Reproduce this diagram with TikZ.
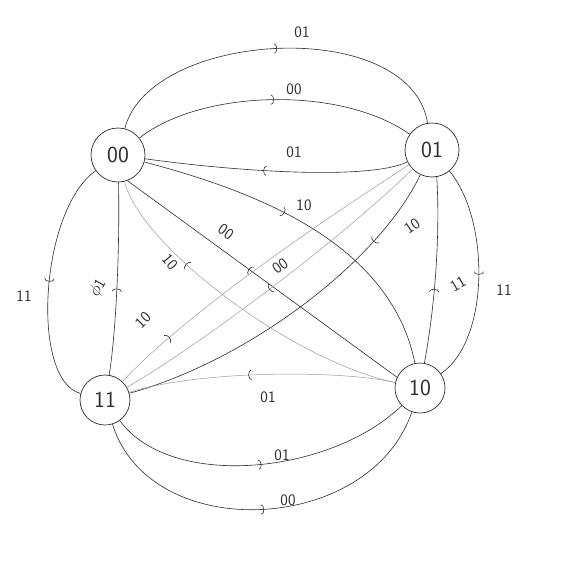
\documentclass[tikz,border=0pt]{standalone}
\usepackage{xcolor}
\usepackage{tikz}
\usetikzlibrary{arrows.meta,decorations.markings,positioning}
\definecolor{ink}{HTML}{2E2E2E}
\definecolor{pale}{HTML}{9C9C9C}

\begin{document}
\begin{tikzpicture}[x=1pt,y=-1pt,
    state/.style={draw=ink, circle, minimum size=54pt, inner sep=0pt, line width=0.7pt,
                  font=\sffamily\fontsize{23}{23}\selectfont, text=ink},
    edge/.style={draw=ink, line width=0.6pt},
    faint/.style={draw=pale, line width=0.5pt},
    lbl/.style={font=\sffamily\fontsize{16}{16}\selectfont, text=ink, inner sep=1pt},
    midarrow/.style={postaction={decorate}, decoration={markings,
        mark=at position #1 with {\arrow[ink, line width=0.6pt]{Arc Barb[length=3pt,width=10pt]}}}}]
  \useasboundingbox (0,0) rectangle (560,586);
  \fill[white] (0,0) rectangle (560,586);

  % states
  \node[state] (s00) at (118,155) {00};
  \node[state] (s01) at (432,150) {01};
  \node[state, minimum size=50pt] (s11) at (105,400) {11};
  \node[state, minimum size=50pt] (s10) at (420,388) {10};

  % 00 <-> 01
  \draw[edge, midarrow=0.5] (s00) .. controls (150,30) and (410,15) .. (s01);
  \node[lbl] (l1) at (302,32) {01};
  \draw[edge, midarrow=0.5] (s00) .. controls (200,90) and (340,85) .. (s01);
  \node[lbl] (l2) at (294,89) {00};
  \draw[edge, midarrow=0.55] (s01) .. controls (370,180) and (240,172) .. (s00);
  \node[lbl] (l3) at (294,152) {01};

  % 00 <-> 10
  \draw[edge, midarrow=0.42] (s00) .. controls (250,190) and (390,240) .. (s10);
  \node[lbl] (l4) at (304,205) {10};
  \draw[edge, midarrow=0.55] (s10.155) -- (s00.-70);
  \node[lbl, rotate=-35] (l5) at (226,232) {00};
  \draw[faint, midarrow=0.7] (s10) .. controls (290,360) and (140,245) .. (s00);
  \node[lbl, rotate=-50] (l6) at (170,262) {10};

  % 00 <-> 11
  \draw[edge, midarrow=0.5] (s00) .. controls (40,210) and (30,380) .. (s11);
  \node[lbl] (l7) at (24,296) {11};
  \draw[edge, midarrow=0.45] (s11) .. controls (115,340) and (120,260) .. (s00);
  \node[lbl, rotate=60] (l8) at (98,288) {$\phi$1};

  % 01 <-> 11
  \draw[edge, midarrow=0.22] (s01) .. controls (380,260) and (250,360) .. (s11);
  \node[lbl, rotate=35] (l9) at (412,226) {10};
  \draw[faint, midarrow=0.52] (s01) .. controls (340,240) and (200,345) .. (s11);
  \node[lbl, rotate=35] (l10) at (280,266) {00};
  \draw[faint, midarrow=0.18] (s11) .. controls (180,320) and (300,235) .. (s01);
  \node[lbl, rotate=45] (l11) at (143,320) {10};

  % 01 <-> 10
  \draw[edge, midarrow=0.5] (s01) .. controls (490,220) and (490,340) .. (s10);
  \node[lbl] (l12) at (504,290) {11};
  \draw[edge, midarrow=0.4] (s10.80) .. controls (436,300) and (440,230) .. (s01.-80);
  \node[lbl, rotate=30] (l13) at (458,284) {11};

  % 10 <-> 11
  \draw[faint, midarrow=0.55] (s10) .. controls (340,370) and (200,370) .. (s11);
  \node[lbl] (l14) at (268,397) {01};
  \draw[edge, midarrow=0.5] (s11) .. controls (170,490) and (330,475) .. (s10);
  \node[lbl] (l15) at (282,455) {01};
  \draw[edge, midarrow=0.5] (s11) .. controls (150,545) and (370,535) .. (s10);
  \node[lbl] (l16) at (288,500) {00};
\end{tikzpicture}
\end{document}
